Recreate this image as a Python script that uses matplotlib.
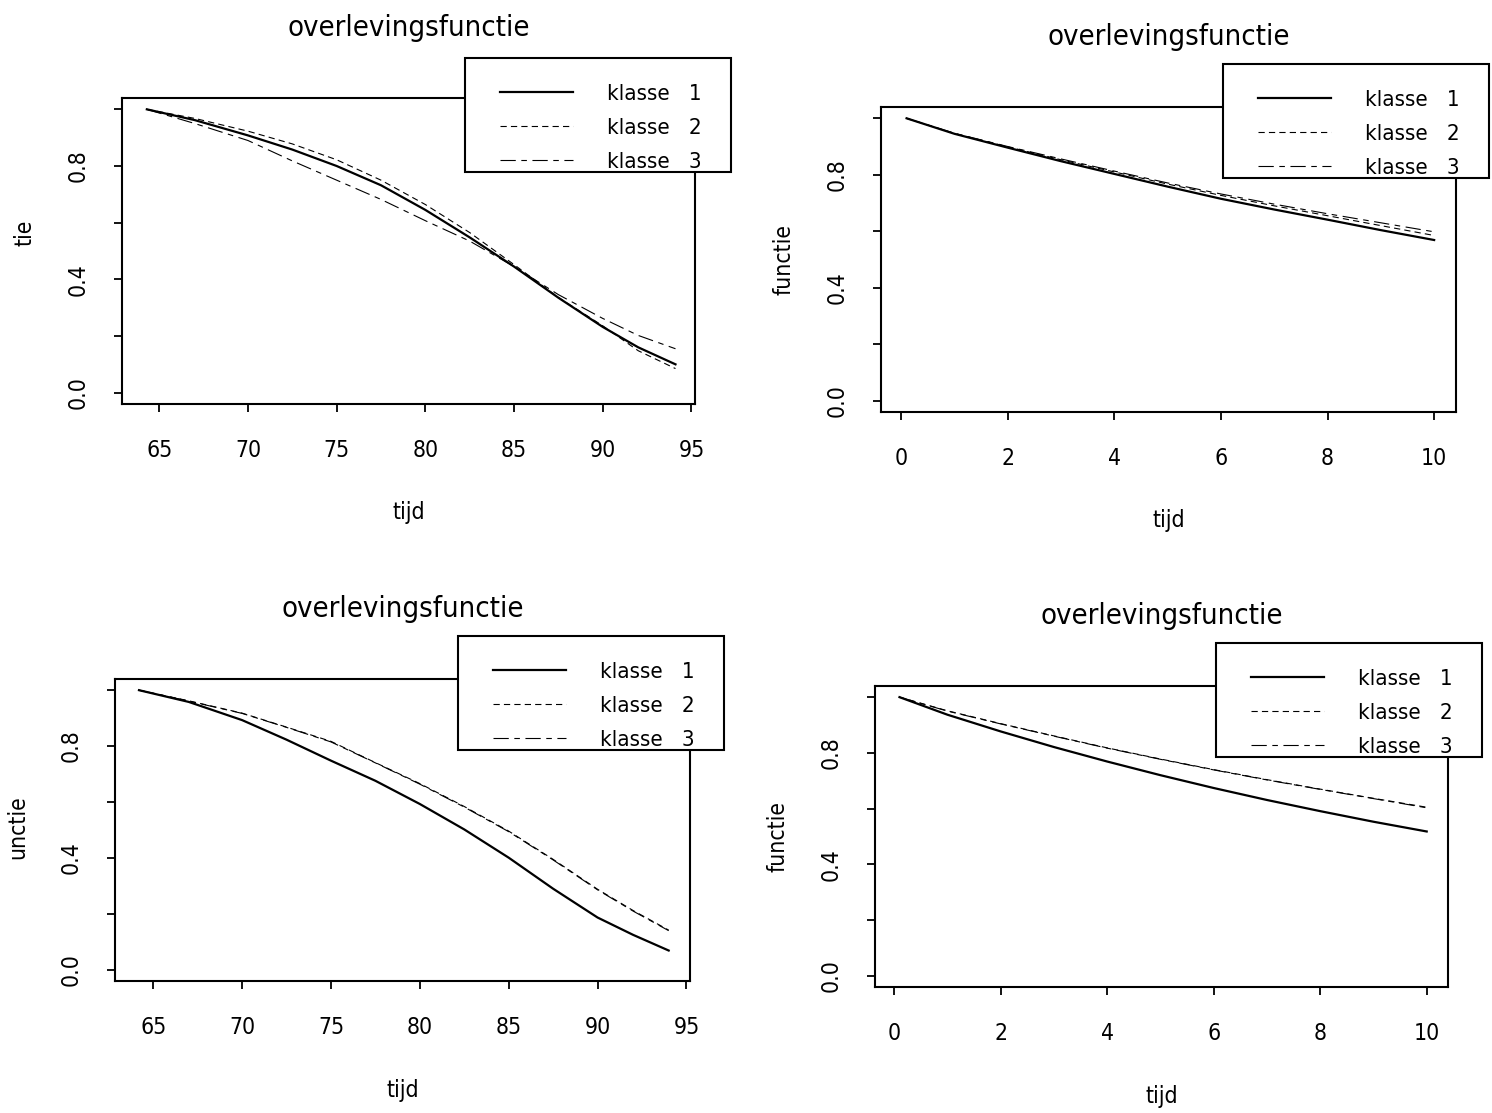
import matplotlib
matplotlib.use("Agg")
import matplotlib.pyplot as plt
from matplotlib import font_manager
from matplotlib.patches import Rectangle

# ---------- DATA ----------

tijd_leeftijd_a = [64.3, 67, 70, 72.5, 75, 77.5, 80, 82.5, 85, 87.5, 90, 92, 94.1]
a_klasse1 = [1.0, 0.962, 0.908, 0.858, 0.800, 0.732, 0.645, 0.548, 0.445, 0.335, 0.232, 0.160, 0.100]
a_klasse2 = [1.0, 0.968, 0.923, 0.878, 0.822, 0.750, 0.664, 0.565, 0.452, 0.336, 0.236, 0.148, 0.085]
a_klasse3 = [1.0, 0.950, 0.890, 0.818, 0.750, 0.682, 0.607, 0.535, 0.445, 0.346, 0.262, 0.202, 0.155]

tijd_jaren_b = [0.1, 1, 2, 3, 4, 5, 6, 7, 8, 9, 10]
b_klasse1 = [1.0, 0.945, 0.896, 0.848, 0.803, 0.758, 0.715, 0.677, 0.641, 0.604, 0.569]
b_klasse2 = [1.0, 0.946, 0.899, 0.853, 0.810, 0.767, 0.727, 0.690, 0.655, 0.620, 0.585]
b_klasse3 = [1.0, 0.947, 0.900, 0.856, 0.813, 0.771, 0.732, 0.696, 0.662, 0.630, 0.598]

tijd_leeftijd_c = [64.2, 67, 70, 72.5, 75, 77.5, 80, 82.5, 85, 87.5, 90, 92, 94]
c_klasse1 = [1.0, 0.958, 0.893, 0.823, 0.748, 0.676, 0.593, 0.502, 0.401, 0.290, 0.187, 0.125, 0.069]
c_klasse2 = [1.0, 0.962, 0.918, 0.868, 0.817, 0.741, 0.666, 0.584, 0.496, 0.395, 0.288, 0.212, 0.142]
c_klasse3 = [1.0, 0.961, 0.917, 0.867, 0.815, 0.740, 0.664, 0.582, 0.494, 0.393, 0.286, 0.210, 0.140]

tijd_jaren_d = [0.1, 1, 2, 3, 4, 5, 6, 7, 8, 9, 10]
d_klasse1 = [1.0, 0.937, 0.877, 0.821, 0.769, 0.720, 0.674, 0.631, 0.591, 0.553, 0.518]
d_klasse2 = [1.0, 0.951, 0.905, 0.861, 0.818, 0.778, 0.740, 0.704, 0.670, 0.637, 0.605]
d_klasse3 = [1.0, 0.950, 0.904, 0.860, 0.817, 0.777, 0.739, 0.703, 0.669, 0.636, 0.603]

klassen = ['klasse   1', 'klasse   2', 'klasse   3']
titel = 'overlevingsfunctie'
y_ticks = [0.0, 0.2, 0.4, 0.6, 0.8, 1.0]
y_ticklabels = ['0.0', '', '0.4', '', '0.8', '']
leeftijd_ticks = [65, 70, 75, 80, 85, 90, 95]
jaren_ticks = [0, 2, 4, 6, 8, 10]

# ---------- STYLE ----------

names = {f.name for f in font_manager.fontManager.ttflist}
if 'Liberation Sans Narrow' in names:
    plt.rcParams['font.family'] = ['Liberation Sans Narrow', 'DejaVu Sans']
else:
    plt.rcParams['font.family'] = ['DejaVu Sans']
    plt.rcParams['font.stretch'] = 'condensed'
plt.rcParams['lines.scale_dashes'] = False

W, H = 1492, 1113
fig = plt.figure(figsize=(W / 100, H / 100), dpi=100)
fig.patch.set_facecolor('white')


def px_axes(left, top, right, bottom):
    return fig.add_axes([left / W, 1 - bottom / H, (right - left) / W, (bottom - top) / H])


def panel(box, x, series, xlim, xticks, ylabel, ylabel_y, legend_box):
    left, top, right, bottom = box
    ax = px_axes(left, top, right, bottom)
    styles = [dict(lw=1.6, ls='-'),
              dict(lw=0.8, dashes=(4.5, 3.0)),
              dict(lw=0.8, dashes=(11, 4, 4, 4))]
    handles = []
    for y, st in zip(series, styles):
        ln, = ax.plot(x, y, color='black', **st)
        handles.append(ln)

    ax.set_xlim(*xlim)
    ax.set_ylim(-0.04, 1.04)
    ax.set_xticks(xticks)
    ax.set_xticklabels([str(t) for t in xticks])
    ax.set_yticks(y_ticks)
    ax.set_yticklabels(y_ticklabels, rotation=90, va='center')
    ax.tick_params(axis='both', direction='out', length=5.5, width=1.3,
                   labelsize=16.5, color='black')
    ax.tick_params(axis='x', pad=20)
    ax.tick_params(axis='y', pad=18)
    for sp in ax.spines.values():
        sp.set_linewidth(1.5)

    h = bottom - top
    w = right - left
    ax.text(0.5, 1 + 70 / h, titel, transform=ax.transAxes, ha='center',
            va='center', fontsize=21)
    ax.set_xlabel('tijd', fontsize=16.5, va='center')
    ax.xaxis.set_label_coords(0.5, -109 / h)
    ax.set_ylabel(ylabel, fontsize=16.5, va='center', ha='center')
    ax.yaxis.set_label_coords(-97 / w, ylabel_y)

    # legend frame (white, covers the top of the plot box) and its content
    lx, ly = legend_box
    ax.add_patch(Rectangle((lx / W, 1 - (ly + 114) / H), 266 / W, 114 / H,
                           transform=fig.transFigure, facecolor='white',
                           edgecolor='black', lw=1.5, clip_on=False, zorder=4.8))
    ax.legend(handles, klassen, loc='upper left',
              bbox_to_anchor=((lx + 35) / W, 1 - (ly + 26) / H),
              bbox_transform=fig.transFigure, frameon=False, fontsize=16,
              borderpad=0, borderaxespad=0, handlelength=3.3,
              handletextpad=1.5, labelspacing=0.62)
    return ax


panel((122, 98, 695, 404), tijd_leeftijd_a, [a_klasse1, a_klasse2, a_klasse3],
      (62.9, 95.2), leeftijd_ticks, 'tie', 0.56, (465, 58))
panel((881, 107, 1456, 412), tijd_jaren_b, [b_klasse1, b_klasse2, b_klasse3],
      (-0.38, 10.41), jaren_ticks, 'functie', 0.5, (1223, 64))
panel((115, 679, 690, 981), tijd_leeftijd_c, [c_klasse1, c_klasse2, c_klasse3],
      (62.85, 95.2), leeftijd_ticks, 'unctie', 0.51, (458, 636))
panel((875, 686, 1448, 987), tijd_jaren_d, [d_klasse1, d_klasse2, d_klasse3],
      (-0.36, 10.4), jaren_ticks, 'functie', 0.5, (1216, 643))

fig.savefig('out.png', dpi=100, facecolor='white')
